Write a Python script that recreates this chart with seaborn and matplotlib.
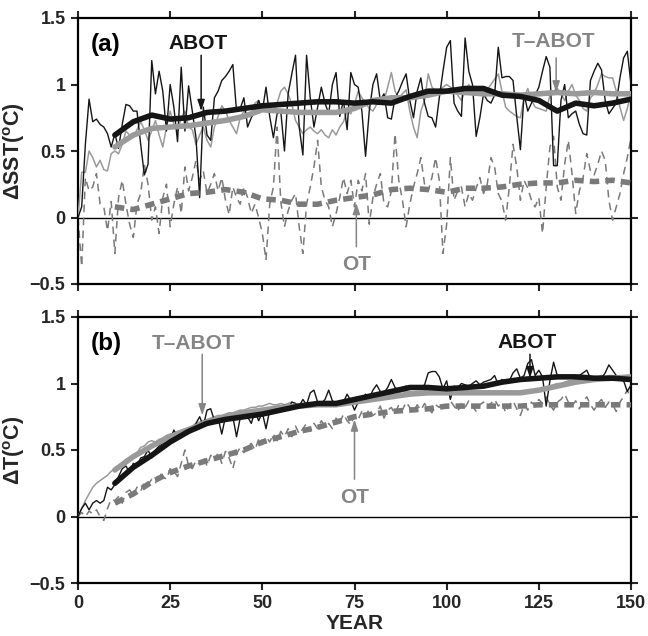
import matplotlib
matplotlib.use("Agg")
import matplotlib.pyplot as plt
import seaborn as sns

# --- dane ---
years = list(range(0, 151))
years_smooth = list(range(10, 151, 5))

# panel (a): dSST
abot_a = [
    0.00, 0.08, 0.55, 0.89, 0.72, 0.74, 0.70, 0.68, 0.63, 0.53,
    0.63, 0.52, 0.70, 0.85, 0.84, 0.80, 0.80, 0.55, 0.32, 0.40,
    1.18, 0.93, 1.10, 0.95, 0.65, 1.00, 0.83, 0.57, 1.13, 0.65,
    0.99, 0.80, 0.60, 0.15, 0.83, 0.62, 0.58, 0.90, 0.95, 1.03,
    1.06, 1.10, 1.15, 0.80, 0.82, 0.90, 0.68, 0.75, 0.80, 0.88,
    0.80, 0.98, 0.76, 0.60, 0.78, 0.80, 0.50, 0.93, 1.08, 1.22,
    0.68, 0.47, 1.22, 0.90, 0.68, 0.83, 0.98, 0.86, 0.78, 1.00,
    1.09, 0.76, 0.88, 0.66, 1.09, 1.00, 0.98, 0.80, 0.46, 0.80,
    1.00, 1.08, 0.88, 0.93, 0.75, 0.74, 0.90, 0.95, 1.02, 1.08,
    0.88, 0.75, 0.95, 1.05, 0.86, 0.76, 0.75, 0.68, 0.90, 1.10,
    1.28, 1.33, 0.86, 0.80, 0.76, 1.35, 1.10, 1.00, 0.61, 0.75,
    0.93, 0.88, 0.86, 0.92, 1.28, 1.05, 1.06, 1.06, 1.03, 0.76,
    0.51, 0.93, 0.80, 0.86, 0.92, 0.98, 1.10, 1.21, 1.13, 0.39,
    0.39, 0.88, 1.00, 0.75, 0.78, 0.80, 0.70, 0.63, 0.62, 1.03,
    1.10, 1.16, 1.11, 0.88, 0.78, 0.82, 0.86, 1.05, 1.20, 1.25,
    1.00,
]
tabot_a = [
    0.00, 0.34, 0.34, 0.50, 0.45, 0.38, 0.43, 0.36, 0.35, 0.48,
    0.50, 0.48, 0.55, 0.65, 0.62, 0.60, 0.66, 0.72, 0.66, 0.58,
    0.65, 0.73, 0.62, 0.53, 0.68, 0.80, 0.70, 0.65, 0.75, 0.80,
    0.68, 0.66, 0.55, 0.62, 0.68, 0.58, 0.53, 0.68, 0.76, 0.84,
    0.80, 0.73, 0.68, 0.63, 0.75, 0.80, 0.76, 0.78, 0.86, 0.88,
    0.80, 0.83, 0.83, 0.80, 0.86, 0.95, 0.98, 0.93, 0.85, 0.73,
    0.68, 0.63, 0.66, 0.68, 0.65, 0.63, 0.66, 0.62, 0.60, 0.66,
    0.62, 0.68, 0.72, 0.80, 0.78, 0.85, 0.95, 0.90, 0.86, 0.82,
    0.80, 0.85, 0.86, 0.88, 0.98, 1.09, 0.95, 0.90, 0.93, 0.96,
    0.80, 0.68, 0.60, 0.80, 0.88, 1.08, 0.98, 0.95, 0.96, 0.98,
    1.00, 0.98, 0.97, 0.92, 0.88, 0.95, 1.00, 0.94, 0.93, 0.95,
    0.96, 0.96, 1.00, 1.04, 1.08, 0.95, 0.83, 0.80, 0.78, 0.76,
    0.75, 0.90, 0.97, 0.88, 0.83, 0.82, 0.81, 0.80, 0.92, 0.95,
    0.97, 0.93, 0.88, 0.95, 1.00, 0.92, 0.88, 0.82, 0.80, 0.90,
    0.93, 1.00, 1.08, 1.06, 1.05, 1.05, 0.95, 0.83, 0.73, 0.82,
    0.93,
]
ot_a = [
    0.00, -0.37, 0.30, 0.20, 0.23, 0.33, 0.10, 0.08, -0.10, 0.12,
    -0.27, 0.15, 0.28, 0.10, -0.05, -0.15, 0.10, 0.18, 0.40, 0.25,
    -0.02, 0.08, -0.12, 0.15, 0.25, -0.07, 0.10, 0.23, 0.03, 0.38,
    0.20, 0.30, 0.43, 0.28, 0.35, 0.18, 0.25, 0.33, 0.20, 0.30,
    0.13, 0.02, 0.23, 0.15, 0.10, 0.23, 0.15, 0.03, 0.10, 0.00,
    -0.12, -0.32, 0.10, 0.23, 0.68, 0.12, -0.07, 0.05, 0.13, 0.18,
    -0.07, -0.27, 0.10, 0.23, 0.38, 0.58, 0.23, 0.13, 0.08, -0.07,
    0.03, 0.15, 0.30, 0.18, 0.28, 0.08, 0.28, 0.20, 0.33, -0.05,
    0.15, 0.25, 0.33, 0.10, 0.08, 0.20, 0.63, 0.28, 0.13, -0.07,
    0.10, 0.23, 0.33, 0.45, 0.25, 0.20, 0.30, 0.45, 0.28, -0.27,
    -0.05, 0.45, 0.13, 0.20, 0.23, 0.08, 0.18, 0.13, 0.22, 0.30,
    0.18, 0.25, 0.45, 0.38, 0.18, 0.12, -0.02, 0.23, 0.55, 0.38,
    0.13, 0.28, 0.22, 0.13, 0.08, 0.15, -0.12, 0.23, 0.53, 0.61,
    0.23, 0.13, 0.40, 0.58, 0.33, 0.03, 0.20, 0.30, 0.48, 0.35,
    0.32, 0.40, 0.50, 0.43, 0.13, -0.02, 0.08, 0.18, 0.33, 0.45,
    0.60,
]
abot_a_smooth = [0.62, 0.72, 0.77, 0.74, 0.75, 0.79, 0.80, 0.82, 0.84, 0.85,
                 0.86, 0.87, 0.87, 0.86, 0.87, 0.86, 0.91, 0.95, 0.95, 0.97,
                 0.97, 0.92, 0.91, 0.88, 0.80, 0.86, 0.84, 0.86, 0.89]
tabot_a_smooth = [0.53, 0.62, 0.67, 0.68, 0.69, 0.71, 0.73, 0.76, 0.81, 0.80,
                  0.79, 0.79, 0.79, 0.82, 0.88, 0.90, 0.90, 0.92, 0.95, 0.94,
                  0.93, 0.93, 0.92, 0.93, 0.94, 0.93, 0.94, 0.93, 0.93]
ot_a_smooth = [0.08, 0.06, 0.10, 0.14, 0.18, 0.19, 0.21, 0.19, 0.14, 0.13,
               0.10, 0.10, 0.13, 0.15, 0.17, 0.21, 0.22, 0.21, 0.19, 0.22,
               0.22, 0.23, 0.25, 0.26, 0.26, 0.28, 0.27, 0.28, 0.26]

# panel (b): dT
abot_b = [
    0.00, 0.06, 0.10, 0.05, 0.10, 0.12, 0.10, 0.12, 0.22, 0.20,
    0.24, 0.30, 0.36, 0.38, 0.33, 0.40, 0.38, 0.44, 0.45, 0.50,
    0.44, 0.50, 0.53, 0.55, 0.56, 0.58, 0.65, 0.60, 0.64, 0.62,
    0.66, 0.64, 0.70, 0.75, 0.68, 0.80, 0.81, 0.72, 0.74, 0.62,
    0.75, 0.73, 0.75, 0.60, 0.74, 0.76, 0.75, 0.70, 0.79, 0.72,
    0.78, 0.66, 0.80, 0.79, 0.81, 0.80, 0.84, 0.81, 0.86, 0.85,
    0.83, 0.88, 0.84, 0.93, 0.95, 0.86, 0.85, 0.88, 0.95, 0.87,
    0.85, 0.83, 0.86, 0.92, 0.87, 0.80, 0.86, 0.88, 0.92, 0.89,
    0.95, 0.99, 0.94, 0.93, 0.97, 1.03, 0.97, 0.95, 0.97, 0.98,
    0.96, 0.97, 0.98, 0.97, 0.99, 1.08, 1.09, 1.09, 1.05, 0.96,
    1.02, 0.88, 0.98, 0.97, 1.00, 0.99, 0.98, 1.00, 1.02, 0.99,
    1.01, 1.02, 1.03, 1.06, 0.99, 1.03, 1.01, 1.02, 1.08, 1.11,
    1.04, 1.06, 1.15, 1.18, 1.06, 1.10, 1.05, 0.83, 1.02, 1.16,
    1.06, 1.05, 1.06, 1.05, 1.04, 1.05, 1.06, 1.08, 1.10, 1.04,
    1.03, 1.05, 1.04, 1.08, 1.14, 1.10, 1.06, 1.03, 1.02, 0.94,
    0.99,
]
tabot_b = [
    0.00, 0.06, 0.12, 0.17, 0.22, 0.25, 0.27, 0.29, 0.31, 0.34,
    0.36, 0.37, 0.40, 0.43, 0.44, 0.46, 0.48, 0.52, 0.53, 0.56,
    0.57, 0.56, 0.58, 0.59, 0.61, 0.62, 0.62, 0.64, 0.65, 0.66,
    0.67, 0.68, 0.70, 0.71, 0.72, 0.73, 0.74, 0.75, 0.76, 0.76,
    0.77, 0.78, 0.78, 0.79, 0.80, 0.80, 0.81, 0.82, 0.82, 0.83,
    0.83, 0.84, 0.85, 0.84, 0.84, 0.85, 0.84, 0.85, 0.86, 0.85,
    0.84, 0.85, 0.84, 0.85, 0.84, 0.85, 0.84, 0.85, 0.86, 0.85,
    0.86, 0.85, 0.86, 0.87, 0.86, 0.87, 0.88, 0.88, 0.89, 0.89,
    0.90, 0.90, 0.91, 0.91, 0.92, 0.92, 0.93, 0.93, 0.94, 0.94,
    0.94, 0.93, 0.94, 0.93, 0.94, 0.93, 0.94, 0.93, 0.94, 0.93,
    0.94, 0.93, 0.92, 0.93, 0.94, 0.93, 0.92, 0.93, 0.92, 0.93,
    0.92, 0.93, 0.92, 0.93, 0.92, 0.93, 0.92, 0.93, 0.93, 0.92,
    0.93, 0.94, 0.93, 0.94, 0.95, 0.95, 0.96, 0.97, 0.98, 0.99,
    1.00, 1.00, 1.01, 1.02, 1.02, 1.03, 1.03, 1.04, 1.04, 1.05,
    1.05, 1.05, 1.06, 1.05, 1.06, 1.06, 1.05, 1.06, 1.05, 1.04,
    1.05,
]
ot_b = [
    0.00, 0.03, 0.00, 0.04, 0.02, 0.05, 0.00, -0.03, 0.06, 0.13,
    0.12, 0.15, 0.10, 0.18, 0.20, 0.16, 0.22, 0.19, 0.26, 0.24,
    0.28, 0.25, 0.33, 0.30, 0.28, 0.36, 0.34, 0.30, 0.40, 0.50,
    0.38, 0.36, 0.42, 0.39, 0.45, 0.38, 0.46, 0.42, 0.48, 0.40,
    0.49, 0.44, 0.36, 0.47, 0.52, 0.48, 0.53, 0.55, 0.50, 0.58,
    0.54, 0.60, 0.56, 0.62, 0.57, 0.64, 0.60, 0.66, 0.60, 0.68,
    0.62, 0.66, 0.70, 0.64, 0.70, 0.66, 0.72, 0.68, 0.70, 0.66,
    0.74, 0.70, 0.77, 0.72, 0.69, 0.76, 0.73, 0.79, 0.75, 0.81,
    0.76, 0.78, 0.83, 0.74, 0.80, 0.82, 0.77, 0.84, 0.80, 0.86,
    0.82, 0.79, 0.84, 0.80, 0.85, 0.81, 0.78, 0.84, 0.82, 0.86,
    0.82, 0.87, 0.83, 0.79, 0.85, 0.82, 0.87, 0.83, 0.79, 0.84,
    0.86, 0.82, 0.85, 0.88, 0.83, 0.86, 0.78, 0.84, 0.87, 0.81,
    0.76, 0.84, 0.80, 0.86, 0.83, 0.88, 0.85, 0.90, 0.84, 0.80,
    0.86, 0.88, 0.92, 0.86, 0.83, 0.87, 0.81, 0.86, 0.90, 0.84,
    0.80, 0.85, 0.88, 0.82, 0.86, 0.84, 0.79, 0.86, 0.90, 0.95,
    0.88,
]
abot_b_smooth = [0.25, 0.37, 0.46, 0.56, 0.64, 0.70, 0.73, 0.75, 0.77, 0.80,
                 0.83, 0.85, 0.85, 0.88, 0.91, 0.94, 0.97, 0.97, 0.96, 0.97,
                 0.98, 1.01, 1.03, 1.04, 1.05, 1.05, 1.04, 1.04, 1.03]
tabot_b_smooth = [0.35, 0.45, 0.53, 0.60, 0.65, 0.71, 0.75, 0.78, 0.80, 0.82,
                  0.83, 0.84, 0.84, 0.86, 0.88, 0.90, 0.92, 0.93, 0.93, 0.93,
                  0.93, 0.93, 0.93, 0.95, 0.98, 1.01, 1.03, 1.04, 1.05]
ot_b_smooth = [0.10, 0.17, 0.26, 0.33, 0.38, 0.42, 0.46, 0.50, 0.56, 0.60,
               0.64, 0.67, 0.71, 0.75, 0.77, 0.79, 0.80, 0.81, 0.83, 0.83,
               0.83, 0.83, 0.83, 0.84, 0.84, 0.84, 0.84, 0.84, 0.84]

for s in (abot_a, tabot_a, ot_a, abot_b, tabot_b, ot_b):
    assert len(s) == len(years), len(s)
for s in (abot_a_smooth, tabot_a_smooth, ot_a_smooth,
          abot_b_smooth, tabot_b_smooth, ot_b_smooth):
    assert len(s) == len(years_smooth), len(s)

xticks = [0, 25, 50, 75, 100, 125, 150]
yticks = [-0.5, 0, 0.5, 1, 1.5]
ytick_labels = ["\u22120.5", "0", "0.5", "1", "1.5"]

# --- styl ---
sns.set_theme(style="ticks")
plt.rcParams['font.family'] = ['Liberation Sans', 'DejaVu Sans']
plt.rcParams['font.weight'] = 'bold'
plt.rcParams['mathtext.default'] = 'regular'

BLACK = '#151515'
LGRAY = '#9a9a9a'
DGRAY = '#7a7a7a'
LABEL_GRAY = '#858585'


def line(ax, y, x=None, color=BLACK, lw=1.0, ls='-', z=2):
    x = years if x is None else x
    sns.lineplot(x=x, y=y, ax=ax, color=color, linewidth=lw, linestyle=ls,
                 estimator=None, sort=False, zorder=z)


def draw_panel(ax, thin, smooth):
    (ab, tab, ot), (ab_s, tab_s, ot_s) = thin, smooth
    ax.axhline(0, color='black', lw=1.0, zorder=1)
    line(ax, ot, color=DGRAY, lw=1.1, ls=(0, (5, 3.5)), z=2)
    line(ax, tab, color=LGRAY, lw=1.1, z=3)
    line(ax, ab, color=BLACK, lw=1.0, z=4)
    line(ax, ot_s, x=years_smooth, color=DGRAY, lw=4.0, ls=(0, (1.7, 1.1)), z=5)
    line(ax, tab_s, x=years_smooth, color=LGRAY, lw=4.0, z=6)
    line(ax, ab_s, x=years_smooth, color=BLACK, lw=4.0, z=7)

    ax.set_xlim(0, 150)
    ax.set_ylim(-0.5, 1.5)
    ax.set_xticks(xticks)
    ax.set_yticks(yticks)
    ax.set_yticklabels(ytick_labels)
    ax.tick_params(direction='out', length=5, width=1.5, top=True, right=True,
                   labelsize=13, pad=4)
    for sp in ax.spines.values():
        sp.set_visible(True)
        sp.set_linewidth(1.6)
        sp.set_color('black')
    ax.set_xlabel('')


def label(ax, txt, x, y, color, size=15):
    ax.text(x, y, txt, color=color, fontsize=size, fontweight='bold',
            ha='center', va='center', zorder=10)


def arrow(ax, x, y0, y1, color):
    ax.annotate('', xy=(x, y1), xytext=(x, y0), zorder=10,
                arrowprops=dict(arrowstyle='-|>,head_length=0.55,head_width=0.18',
                                color=color, lw=1.1, shrinkA=0, shrinkB=0))


fig = plt.figure(figsize=(6.48, 6.36), dpi=100)
ax1 = fig.add_axes([78 / 648, 1 - 284 / 636, 553 / 648, 266 / 636])
ax2 = fig.add_axes([78 / 648, 1 - 583 / 636, 553 / 648, 266 / 636])

draw_panel(ax1, (abot_a, tabot_a, ot_a), (abot_a_smooth, tabot_a_smooth, ot_a_smooth))
draw_panel(ax2, (abot_b, tabot_b, ot_b), (abot_b_smooth, tabot_b_smooth, ot_b_smooth))

ax1.set_xticklabels([])
ax1.set_ylabel('\u0394SST($^o$C)', fontsize=15.5, fontweight='bold', labelpad=2)
ax2.set_ylabel('\u0394T($^o$C)', fontsize=15.5, fontweight='bold', labelpad=2)
ax2.set_xlabel('YEAR', fontsize=15, fontweight='bold', labelpad=1)

# panel (a) opisy
label(ax1, '(a)', 7.5, 1.30, 'black', size=17.5)
label(ax1, 'ABOT', 32.5, 1.31, BLACK)
arrow(ax1, 33.4, 1.22, 0.80, BLACK)
label(ax1, 'T\u2013ABOT', 129, 1.32, LABEL_GRAY)
arrow(ax1, 129.7, 1.20, 0.94, LABEL_GRAY)
label(ax1, 'OT', 75.7, -0.35, LABEL_GRAY)
arrow(ax1, 75.5, -0.22, 0.11, LABEL_GRAY)

# panel (b) opisy
label(ax2, '(b)', 7.8, 1.30, 'black', size=17.5)
label(ax2, 'T\u2013ABOT', 31.3, 1.30, LABEL_GRAY)
arrow(ax2, 33.7, 1.22, 0.76, LABEL_GRAY)
label(ax2, 'ABOT', 121.7, 1.31, BLACK)
arrow(ax2, 122.6, 1.22, 1.04, BLACK)
label(ax2, 'OT', 75.0, 0.14, LABEL_GRAY)
arrow(ax2, 75.0, 0.28, 0.73, LABEL_GRAY)

fig.savefig('out.png', dpi=100)
